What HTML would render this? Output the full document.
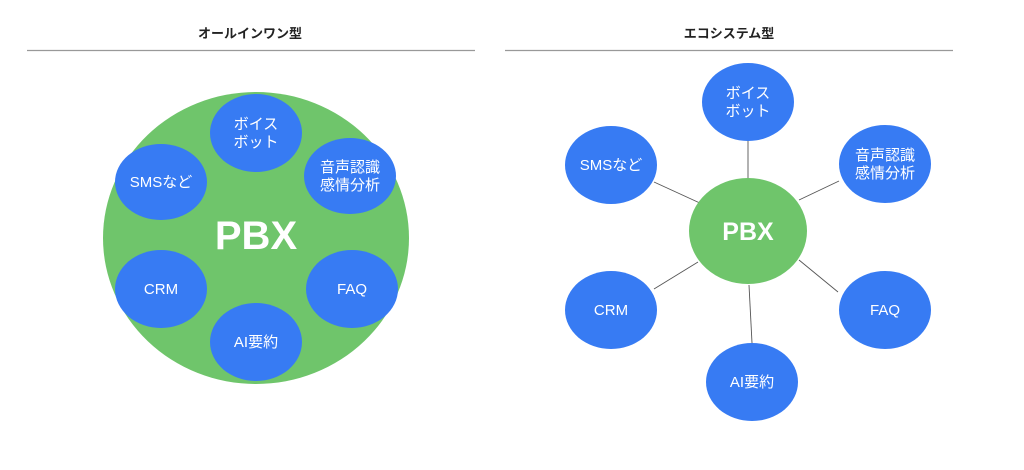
<!DOCTYPE html>
<html><head><meta charset="utf-8"><style>
body{margin:0;background:#fff;width:1024px;height:465px;overflow:hidden}
svg text{font-family:"Liberation Sans","Noto Sans CJK JP",sans-serif}
</style></head><body>
<svg width="1024" height="465" viewBox="0 0 1024 465" xmlns="http://www.w3.org/2000/svg">
<text x="250" y="38" font-size="13" font-weight="bold" text-anchor="middle" fill="#222">オールインワン型</text>
<text x="729" y="38" font-size="13" font-weight="bold" text-anchor="middle" fill="#222">エコシステム型</text>
<line x1="27" y1="50.5" x2="475" y2="50.5" stroke="#999" stroke-width="1.3"/>
<line x1="505" y1="50.5" x2="953" y2="50.5" stroke="#999" stroke-width="1.3"/>
<ellipse cx="256" cy="238" rx="153" ry="146" fill="#6fc56b"/>
<text x="256" y="249" font-size="40" font-weight="bold" fill="#fff" text-anchor="middle">PBX</text>
<g fill="#377bf3">
<ellipse cx="256" cy="133" rx="46" ry="39"/>
<ellipse cx="161" cy="182" rx="46" ry="38"/>
<ellipse cx="350" cy="176" rx="46" ry="38"/>
<ellipse cx="161" cy="289" rx="46" ry="39"/>
<ellipse cx="352" cy="289" rx="46" ry="39"/>
<ellipse cx="256" cy="342" rx="46" ry="39"/>
</g>
<g fill="#fff" font-size="15" text-anchor="middle">
<text x="256" y="129">ボイス</text><text x="256" y="147">ボット</text>
<text x="161" y="187">SMSなど</text>
<text x="350" y="172">音声認識</text><text x="350" y="190">感情分析</text>
<text x="161" y="294">CRM</text>
<text x="352" y="294">FAQ</text>
<text x="256" y="347">AI要約</text>
</g>
<g stroke="#555" stroke-width="0.9">
<line x1="748" y1="141" x2="748" y2="178"/>
<line x1="654" y1="182" x2="702" y2="204"/>
<line x1="839" y1="181" x2="799" y2="200"/>
<line x1="654" y1="289" x2="698" y2="262"/>
<line x1="838" y1="292" x2="799" y2="260"/>
<line x1="749" y1="285" x2="752" y2="343"/>
</g>
<ellipse cx="748" cy="231" rx="59" ry="53" fill="#6fc56b"/>
<text x="748" y="240" font-size="25" font-weight="bold" fill="#fff" text-anchor="middle">PBX</text>
<g fill="#377bf3">
<ellipse cx="748" cy="102" rx="46" ry="39"/>
<ellipse cx="611" cy="165" rx="46" ry="39"/>
<ellipse cx="885" cy="164" rx="46" ry="39"/>
<ellipse cx="611" cy="310" rx="46" ry="39"/>
<ellipse cx="885" cy="310" rx="46" ry="39"/>
<ellipse cx="752" cy="382" rx="46" ry="39"/>
</g>
<g fill="#fff" font-size="15" text-anchor="middle">
<text x="748" y="98">ボイス</text><text x="748" y="116">ボット</text>
<text x="611" y="170">SMSなど</text>
<text x="885" y="160">音声認識</text><text x="885" y="178">感情分析</text>
<text x="611" y="315">CRM</text>
<text x="885" y="315">FAQ</text>
<text x="752" y="387">AI要約</text>
</g>
</svg>
</body></html>
